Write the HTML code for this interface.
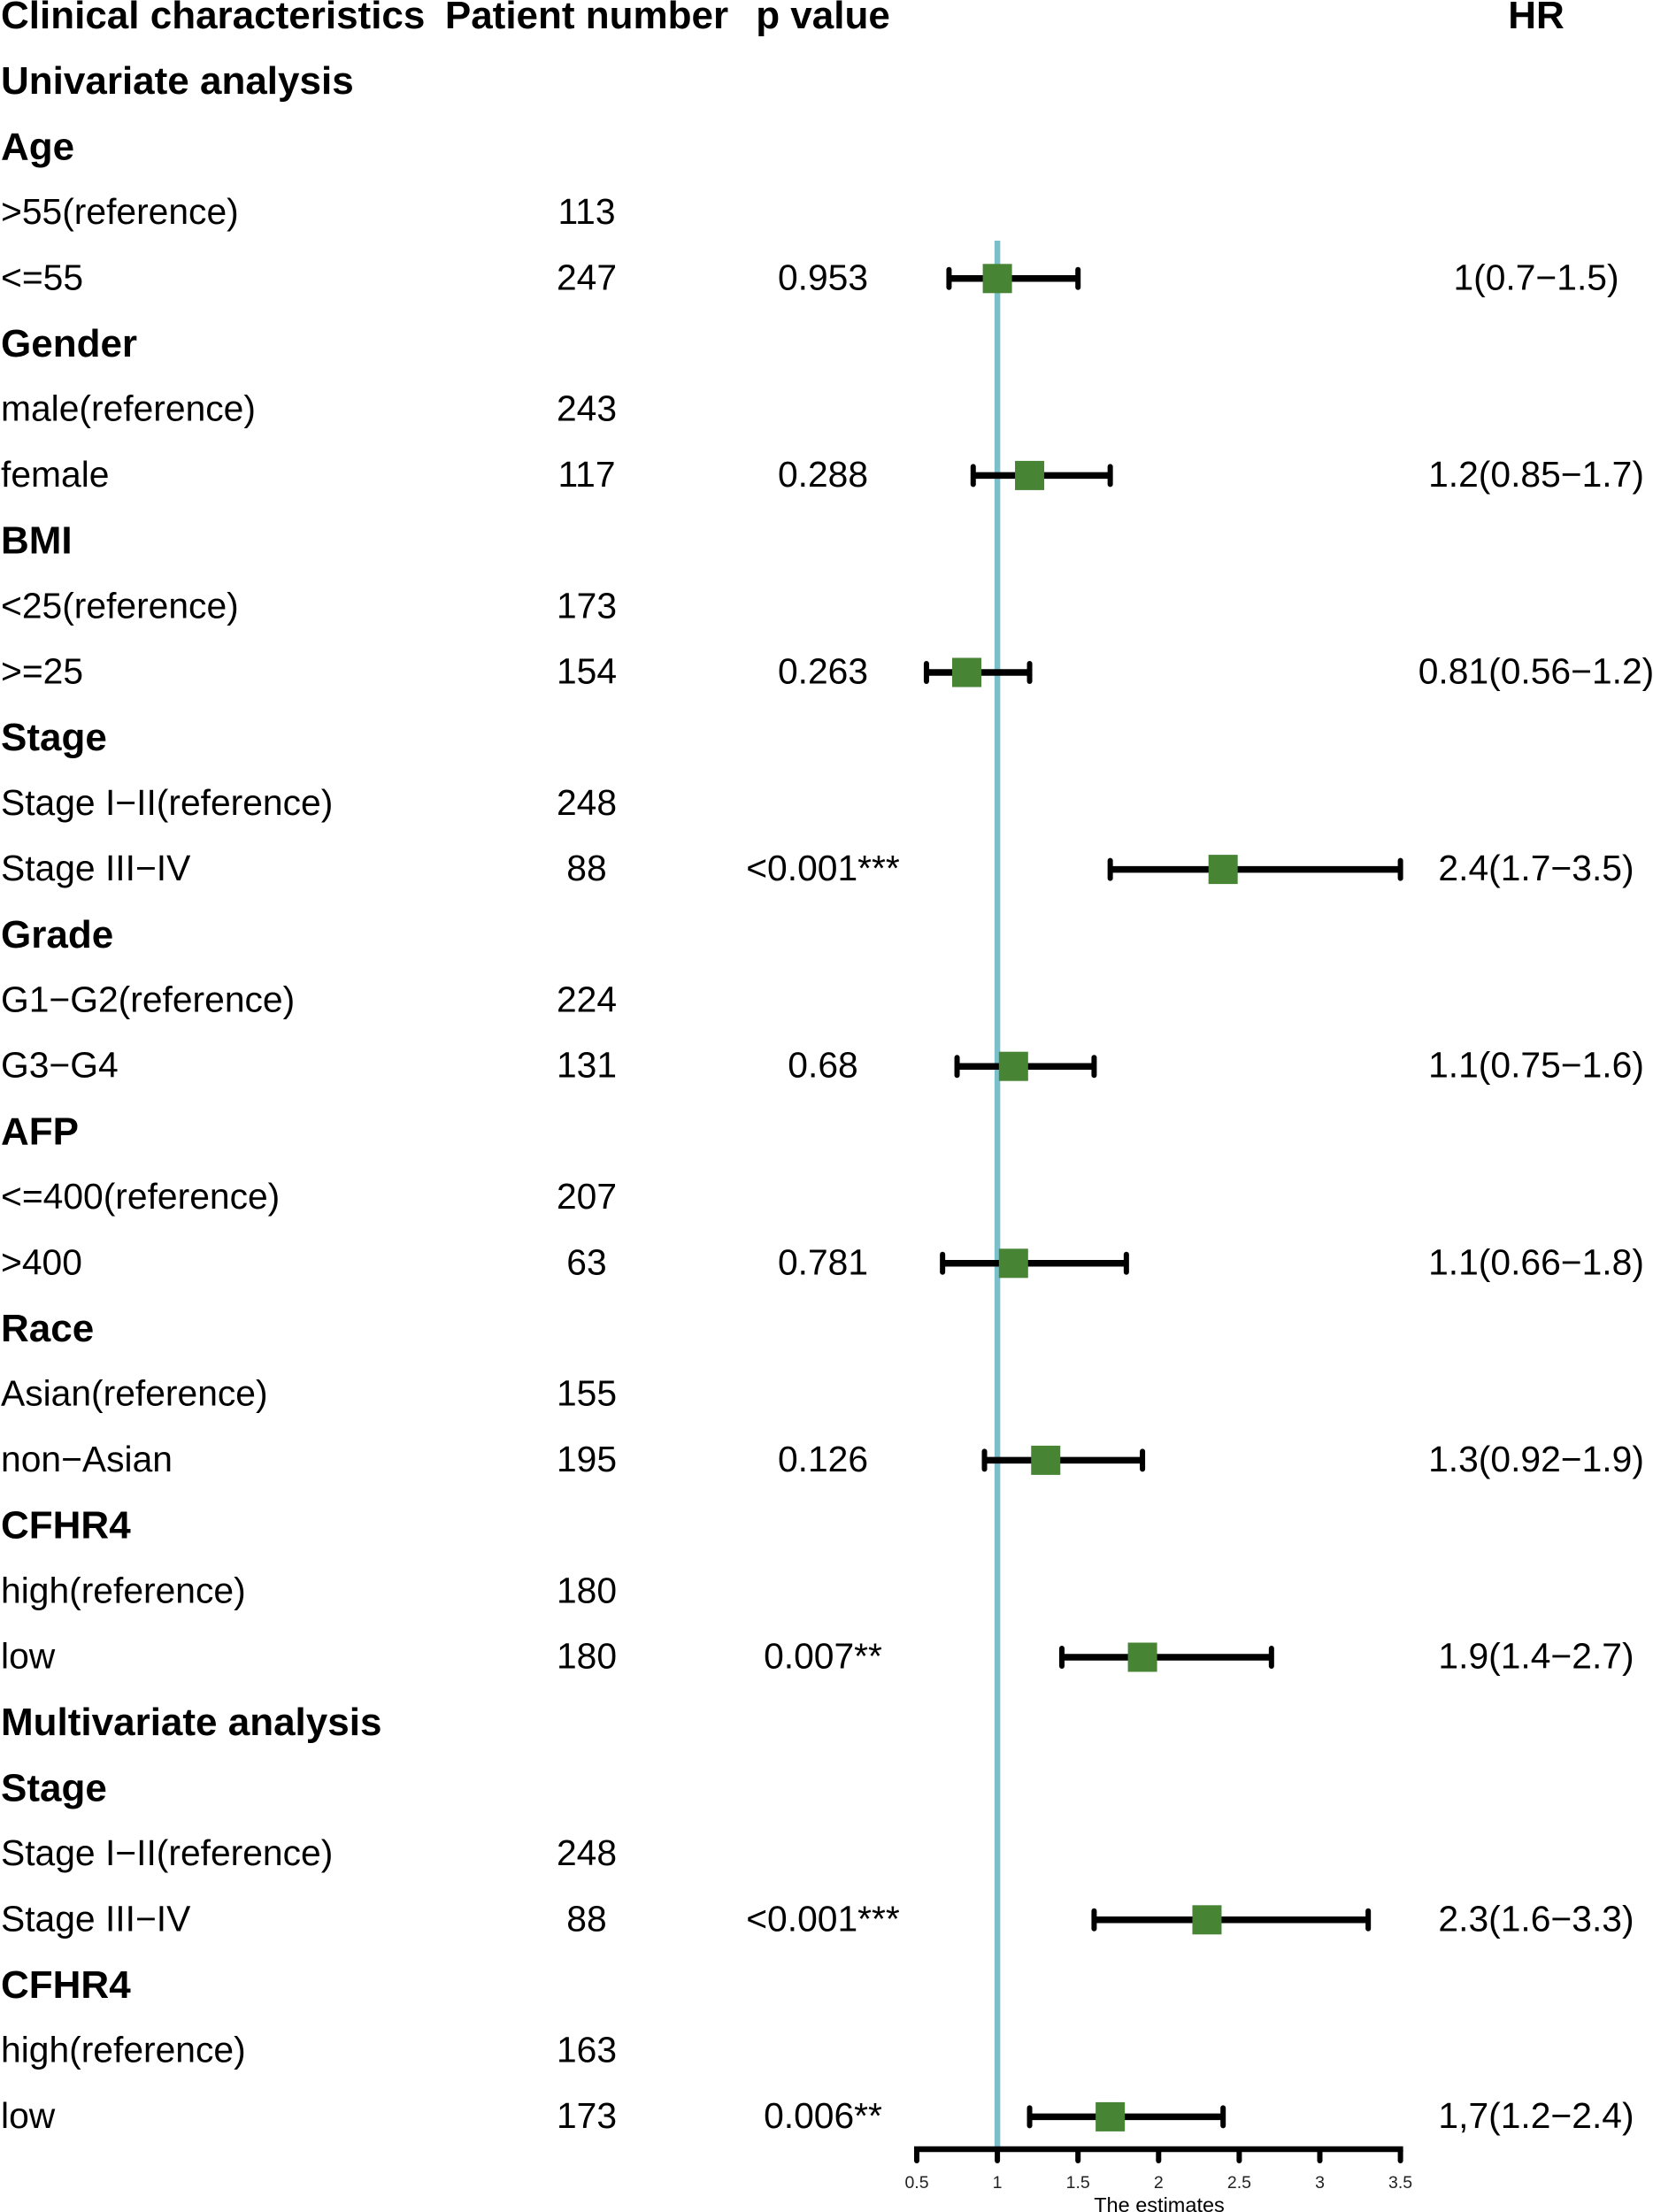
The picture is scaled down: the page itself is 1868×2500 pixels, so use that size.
<!DOCTYPE html>
<html lang="en">
<head>
<meta charset="utf-8">
<title>Forest plot</title>
<style>
html,body{margin:0;padding:0;background:#fff;width:1868px;height:2500px;overflow:hidden}
svg{display:block}
text{font-family:"Liberation Sans",Arial,sans-serif;fill:#000}
.r{font-size:40.8px}
.b{font-size:44px;font-weight:bold}
</style>
</head>
<body>
<svg id="chart" xmlns="http://www.w3.org/2000/svg" width="1868" height="2500" viewBox="0 0 1868 2500"></svg>
<script>
const headers = ["Clinical characteristics", "Patient number", "p value", "HR"];
const rowLabels = ["Univariate analysis","Age",">55(reference)","<=55","Gender","male(reference)","female","BMI","<25(reference)",">=25","Stage","Stage I\u2212II(reference)","Stage III\u2212IV","Grade","G1\u2212G2(reference)","G3\u2212G4","AFP","<=400(reference)",">400","Race","Asian(reference)","non\u2212Asian","CFHR4","high(reference)","low","Multivariate analysis","Stage","Stage I\u2212II(reference)","Stage III\u2212IV","CFHR4","high(reference)","low"];
const boldRows = [1,1,0,0,1,0,0,1,0,0,1,0,0,1,0,0,1,0,0,1,0,0,1,0,0,1,1,0,0,1,0,0];
const patientNumbers = ["","","113","247","","243","117","","173","154","","248","88","","224","131","","207","63","","155","195","","180","180","","","248","88","","163","173"];
const pValues = ["","","","0.953","","","0.288","","","0.263","","","<0.001***","","","0.68","","","0.781","","","0.126","","","0.007**","","","","<0.001***","","","0.006**"];
const hrLabels = ["","","","1(0.7\u22121.5)","","","1.2(0.85\u22121.7)","","","0.81(0.56\u22121.2)","","","2.4(1.7\u22123.5)","","","1.1(0.75\u22121.6)","","","1.1(0.66\u22121.8)","","","1.3(0.92\u22121.9)","","","1.9(1.4\u22122.7)","","","","2.3(1.6\u22123.3)","","","1,7(1.2\u22122.4)"];
const hrValues = [null,null,null,1,null,null,1.2,null,null,0.81,null,null,2.4,null,null,1.1,null,null,1.1,null,null,1.3,null,null,1.9,null,null,null,2.3,null,null,1.7];
const lowerValues = [null,null,null,0.7,null,null,0.85,null,null,0.56,null,null,1.7,null,null,0.75,null,null,0.66,null,null,0.92,null,null,1.4,null,null,null,1.6,null,null,1.2];
const upperValues = [null,null,null,1.5,null,null,1.7,null,null,1.2,null,null,3.5,null,null,1.6,null,null,1.8,null,null,1.9,null,null,2.7,null,null,null,3.3,null,null,2.4];
const axisTicks = [0.5,1,1.5,2,2.5,3,3.5];
const referenceValue = 1;

const svg = document.getElementById('chart');
const NS = 'http://www.w3.org/2000/svg';
const xScale = v => 1036 + (v - 0.5) * 182.2;
const rowCenter = i => 17.5 + i * 74.2;
const rowBaseline = i => 32 + i * 74.2;
const regularBaseline = i => 30.5 + i * 74.2;

function make(tag, attrs, text) {
  const el = document.createElementNS(NS, tag);
  for (const k in attrs) el.setAttribute(k, attrs[k]);
  if (text !== undefined) el.textContent = text;
  svg.appendChild(el);
  return el;
}

// Headers
const headerX = [1, 663, 930, 1736];
const headerAnchor = ['start', 'middle', 'middle', 'middle'];
headers.forEach((h, i) => {
  const el = make('text', {x: headerX[i], y: rowBaseline(0), class: 'b', 'text-anchor': headerAnchor[i]}, h);
  
  
});

// Reference line
const refLine = make('line', {x1: xScale(referenceValue), x2: xScale(referenceValue), y1: 272, y2: 2429, stroke: '#7bbfcb', 'stroke-width': 6.5});



// Rows
rowLabels.forEach((label, idx) => {
  const row = idx + 1;
  const y = regularBaseline(row);
  const lab = make('text', {x: 1, y: boldRows[idx] ? rowBaseline(row) : y, class: boldRows[idx] ? 'b' : 'r'}, label);
  
  
  if (patientNumbers[idx]) {
    const t = make('text', {x: 663, y: y, class: 'r', 'text-anchor': 'middle'}, patientNumbers[idx]);
    
    
  }
  if (pValues[idx]) {
    const t = make('text', {x: 930, y: y, class: 'r', 'text-anchor': 'middle'}, pValues[idx]);
    
    
  }
  if (hrLabels[idx]) {
    const t = make('text', {x: 1736, y: y, class: 'r', 'text-anchor': 'middle'}, hrLabels[idx]);
    
    
  }
  if (hrValues[idx] !== null) {
    const cy = rowCenter(row) + 0.5;
    const x0 = xScale(lowerValues[idx]);
    const x1 = xScale(upperValues[idx]);
    const w = make('line', {x1: x0, x2: x1, y1: cy, y2: cy, stroke: '#000', 'stroke-width': 7.5});
    
    
    const c0 = make('line', {x1: x0, x2: x0, y1: cy - 10, y2: cy + 10, stroke: '#000', 'stroke-width': 6, 'stroke-linecap': 'round'});
    
    
    const c1 = make('line', {x1: x1, x2: x1, y1: cy - 10, y2: cy + 10, stroke: '#000', 'stroke-width': 6, 'stroke-linecap': 'round'});
    
    
    const p = make('rect', {x: xScale(hrValues[idx]) - 16.5, y: cy - 16.5, width: 33, height: 33, fill: '#478535'});
    
    
  }
});

// Axis
const axis = make('line', {x1: xScale(axisTicks[0]) - 3, x2: xScale(axisTicks[axisTicks.length - 1]) + 3, y1: 2429, y2: 2429, stroke: '#000', 'stroke-width': 6.5});


axisTicks.forEach(t => {
  const tick = make('line', {x1: xScale(t), x2: xScale(t), y1: 2429, y2: 2442, stroke: '#000', 'stroke-width': 6, 'stroke-linecap': 'round'});
  
  
  const lab = make('text', {x: xScale(t), y: 2473, 'font-size': 19.5, 'text-anchor': 'middle', style: 'fill:#222'}, String(t));
  
  
});
const title = make('text', {x: 1310, y: 2500, 'font-size': 23.5, 'text-anchor': 'middle'}, 'The estimates');


</script>
</body>
</html>
